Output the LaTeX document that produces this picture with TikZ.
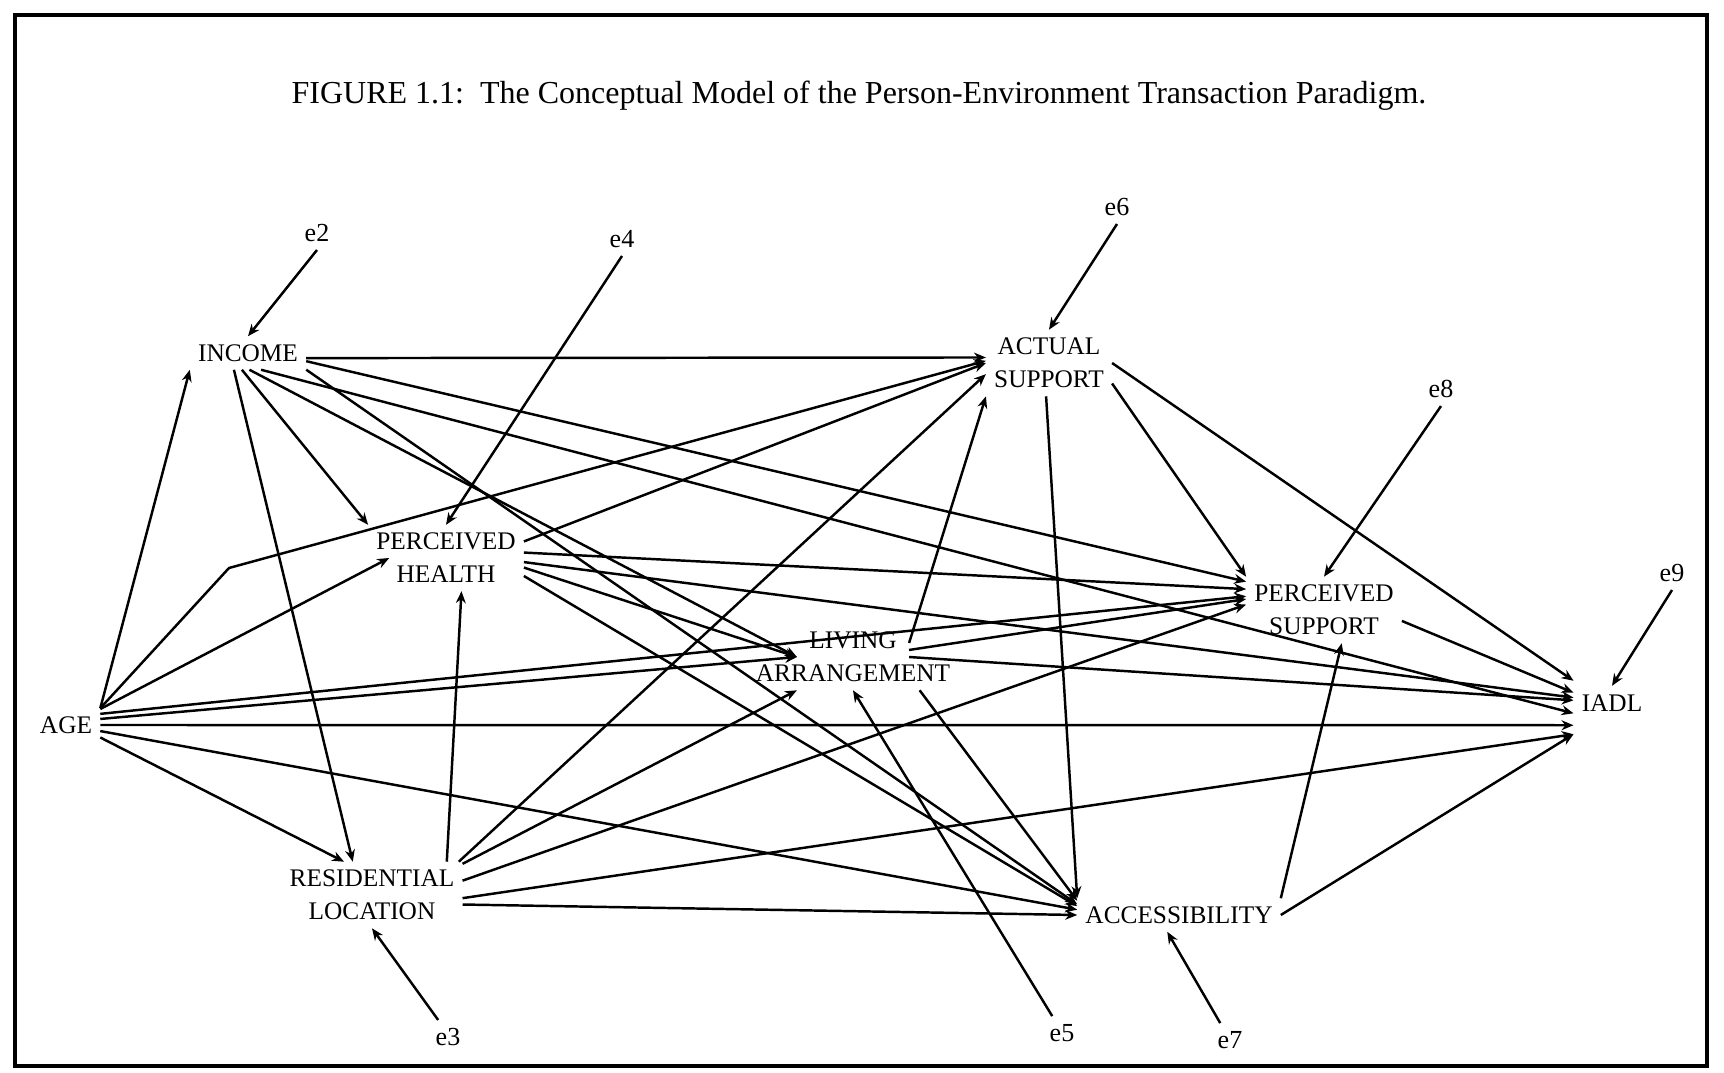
\documentclass[tikz,border=0pt]{standalone}
\usepackage{fontspec}
\setmainfont{Liberation Serif}
\usetikzlibrary{arrows.meta}

\begin{document}
\begin{tikzpicture}[x=0.01cm,y=-0.01cm,line width=0.7pt,>={Stealth[length=3.4pt,width=2.8pt]},
  var node/.style={inner sep=2pt,align=center,font=\fontsize{7.2}{9.4}\selectfont},
  err node/.style={inner sep=2pt,font=\fontsize{7.4}{9}\selectfont}]
\tikzstyle{link} = [draw,->]

\useasboundingbox (0,0) rectangle (1724,1073);
\draw[line width=1pt] (15,15) rectangle (1707,1066);

\node[anchor=base,font=\fontsize{9.1}{11}\selectfont] (title) at (859,104) {FIGURE 1.1:\ \ The Conceptual Model of the Person-Environment Transaction Paradigm.};

% variables
\node[var node] (age) at (66,725) {AGE};
\node[var node] (inc) at (248,353) {INCOME};
\node[var node] (ph) at (446,558) {PERCEIVED\\HEALTH};
\node[var node] (rl) at (372,895) {RESIDENTIAL\\LOCATION};
\node[var node] (la) at (853,657) {LIVING\\ARRANGEMENT};
\node[var node] (as) at (1049,363) {ACTUAL\\SUPPORT};
\node[var node] (ps) at (1324,610) {PERCEIVED\\SUPPORT};
\node[var node] (acc) at (1179,915) {ACCESSIBILITY};
\node[var node,minimum height=0.6cm] (iadl) at (1612,703) {IADL};
\coordinate (bend) at (229,568);

% error terms
\node[err node] (e2) at (317,233) {e2};
\node[err node] (e4) at (622,239) {e4};
\node[err node] (e6) at (1117,207) {e6};
\node[err node] (e8) at (1441,389) {e8};
\node[err node] (e9) at (1672,573) {e9};
\node[err node] (e3) at (448,1037) {e3};
\node[err node] (e5) at (1062,1033) {e5};
\node[err node] (e7) at (1230,1040) {e7};

\draw[link] (e2.south) -- (inc.north);
\draw[link] (e4.south) -- (ph.north);
\draw[link] (e6.south) -- (as.north);
\draw[link] (e8.south) -- (ps.north);
\draw[link] (e9.south) -- ([yshift=-4pt]iadl.north);
\draw[link] (e3.120) -- (rl.south);
\draw[link] (e5.120) -- (la.south);
\draw[link] (e7.120) -- (acc.-125);

% from age
\draw[link] (age.north east) -- (inc.south west);
\draw[link] (age.north east) -- (bend) -- (as.178);
\draw[link] (age.25) -- ([xshift=6pt]ph.west);
\draw[link] (age.18) -- (ps.170);
\draw[link] (age.10) -- ([xshift=14pt]la.west);
\draw[link] (age.east) -- (iadl.210);
\draw[link] (age.-10) -- (acc.177);
\draw[link] (age.-20) -- (rl.130);

% from income
\draw[link] (inc.-5) -- (as.175);
\draw[link] (inc.-110) -- (ph.north west);
\draw[link] (inc.-130) -- (rl.120);
\draw[link] (inc.-85) -- ([xshift=14pt]la.west);
\draw[link] (inc.-16) -- (acc.174);
\draw[link] (inc.-8) -- (ps.160);
\draw[link] (inc.-52) -- (iadl.195);

% from perceived health
\draw[link] (ph.12) -- (as.west);
\draw[link] (ph.4) -- (ps.165);
\draw[link] (ph.-3) -- (iadl.172);
\draw[link] (ph.-7) -- ([xshift=14pt]la.west);
\draw[link] (ph.-13) -- (acc.175);

% from residential location
\draw[link] (rl.24) -- (ph.-65);
\draw[link] (rl.21) -- (as.190);
\draw[link] (rl.19) -- ([xshift=14pt]la.south west);
\draw[link] (rl.9) -- (ps.176);
\draw[link] (rl.-2) -- (iadl.south west);
\draw[link] (rl.-6) -- (acc.180);

% from living arrangement
\draw[link] ([xshift=-14pt,yshift=4pt]la.east) -- (as.south west);
\draw[link] ([xshift=-14pt,yshift=2pt]la.east) -- (ps.172);
\draw[link] ([xshift=-14pt]la.east) -- (iadl.176);
\draw[link] ([xshift=-11pt]la.south east) -- (acc.172);

% from actual support
\draw[link] (as.-95) -- (acc.north west);
\draw[link] (as.-18) -- (ps.north west);
\draw[link] (as.east) -- (iadl.150);

% perceived support, accessibility
\draw[link] (ps.-8) -- (iadl.165);
\draw[link] (acc.north east) -- (ps.-62);
\draw[link] (acc.east) -- (iadl.south west);

\end{tikzpicture}
\end{document}
